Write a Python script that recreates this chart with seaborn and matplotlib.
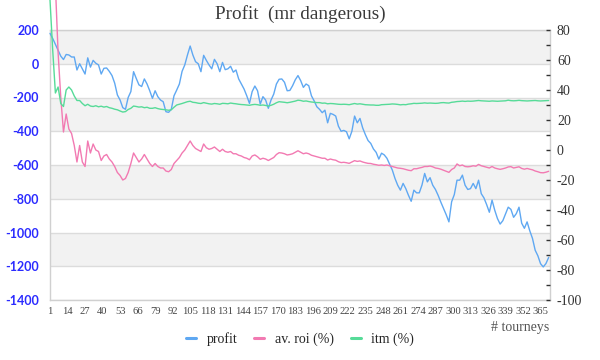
import matplotlib
matplotlib.use("Agg")
import matplotlib.pyplot as plt
from matplotlib.lines import Line2D
from matplotlib.ticker import MultipleLocator
import seaborn as sns
import pandas as pd

# ---------------- data (every 2nd tourney) ----------------
tourneys = list(range(1, 372, 2))

profit = [
    180, 150, 115, 80, 45, 25, 55, 52, 40, 40,
    -37, 0, -30, -61, 35, -20, 20, 3, -7, -61,
    -27, -25, -45, -70, -115, -185, -215, -260, -270, -200,
    -165, -47, -87, -125, -135, -90, -120, -160, -205, -160,
    -195, -215, -225, -284, -288, -270, -190, -156, -120, -45,
    -7, 52, 105, 52, 12, 0, -47, 50, 20, -7,
    -30, 26, 0, -47, 8, -35, -30, -15, -50, -37,
    -90, -120, -150, -190, -235, -165, -132, -160, -239, -195,
    -215, -264, -215, -180, -120, -92, -90, -110, -160, -158,
    -130, -95, -70, -100, -140, -120, -130, -190, -220, -255,
    -270, -290, -275, -350, -294, -300, -310, -370, -400, -395,
    -403, -445, -400, -310, -350, -324, -380, -420, -455, -472,
    -505, -525, -565, -530, -540, -560, -595, -630, -680, -720,
    -749, -709, -740, -780, -815, -749, -765, -765, -719, -650,
    -700, -675, -720, -745, -780, -820, -858, -895, -937, -818,
    -775, -690, -690, -660, -720, -745, -740, -709, -740, -690,
    -770, -795, -835, -880, -808, -868, -917, -950, -930, -890,
    -850, -863, -910, -888, -850, -945, -975, -937, -990, -1035,
    -1105, -1138, -1185, -1204, -1184, -1148,
]

av_roi = [
    840, 230, 110, 65, 35, 12, 24, 14, 11, 3,
    -8, 3, -8, -11, 6, -2, 4, 0, -1, -7,
    -4, -3, -6, -8, -11, -15, -17, -20, -19, -15,
    -9, -2, -5, -8, -6, -3, -6, -9, -11, -9,
    -11, -12, -12, -14, -14.5, -13, -9, -7, -5, -2,
    0, 3, 6, 3, 1, 0, -1, 4, 1.5, 0.5,
    1, 2, 0.5, -1, 0.5, -1, -1.5, -1, -2.5, -2.5,
    -3.5, -4, -5, -5.5, -6.5, -4, -3.3, -4.5, -6.2, -5.5,
    -6, -7, -6, -5, -3, -1.8, -2, -2.5, -3.3, -3,
    -2.5, -1.5, -0.5, -1.5, -2.5, -2, -2.5, -3.5, -4, -4.5,
    -5, -5.5, -5.5, -6.7, -6, -6.5, -6.8, -7.8, -8.4, -8.2,
    -8.5, -8.9, -8, -7.1, -7.6, -7.3, -8, -8.5, -8.9, -9,
    -9.5, -9.8, -10.2, -10, -10.3, -10, -10.5, -11, -11.5, -12,
    -12.2, -12.5, -13, -13.5, -13.8, -12.5, -12.5, -12, -11.6, -11,
    -11, -10.7, -11.2, -12, -12.3, -12.8, -13.5, -14.2, -14.9, -13,
    -12, -9.3, -10.5, -10, -11, -11.2, -11, -10.5, -10.8, -9.6,
    -10.5, -11, -11.5, -12, -11, -12, -12.5, -12.9, -12.5, -12,
    -11.3, -11.1, -12, -11.6, -11.2, -12.3, -12.8, -12.3, -12.8, -13.2,
    -14, -14.5, -15.1, -15.2, -14.8, -14.2,
]

itm = [
    100, 66.7, 38, 42, 31, 29, 40, 42, 40, 36,
    33, 33, 31, 29.5, 30.5, 29.3, 29, 29.5, 28.8, 29.2,
    28.6, 29, 28.2, 27.8, 27.2, 26.8, 26, 25.3, 25.6, 27,
    27.8, 29.3, 29, 28.6, 28.8, 28.2, 28.5, 27.8, 27.8, 28.2,
    27.6, 27.2, 27, 26.8, 26.5, 26.8, 28.5, 30, 30.5, 31,
    31.6, 32.2, 32.5, 31.8, 31.6, 31.2, 31, 31.6, 31.2, 30.8,
    30.6, 31, 30.8, 30.5, 31.1, 31, 30.8, 31.3, 31, 30.8,
    30.5, 30.3, 30.2, 30, 29.8, 30.2, 30.4, 30.2, 29.8, 30,
    29.7, 29.3, 29.8, 30.5, 31.5, 32.2, 32, 31.8, 31.5, 31.8,
    32.2, 32.6, 33.2, 33, 32.5, 32.7, 32.3, 32, 31.8, 31.6,
    31.6, 31.2, 31.3, 30.8, 31, 30.9, 30.7, 30.5, 30.4, 30.5,
    30.4, 30.2, 30.6, 31, 30.6, 30.8, 30.5, 30.2, 30.1, 30,
    30, 29.8, 29.8, 30.2, 30.3, 30.4, 30.5, 30.7, 30.6, 30.4,
    30.1, 30.3, 30.2, 30.6, 30.8, 31.1, 31, 31.1, 31.2, 31.4,
    31.2, 31.3, 31.2, 31.1, 31.2, 31.5, 31.6, 31.4, 31.3, 31.8,
    32, 32.3, 32.4, 32.6, 32.4, 32.6, 32.5, 32.6, 32.8, 33,
    32.8, 32.7, 32.6, 32.5, 32.7, 32.6, 32.5, 32.6, 32.7, 32.8,
    33.2, 32.9, 32.8, 32.9, 33.1, 32.9, 32.8, 32.7, 32.8, 32.9,
    33, 32.8, 32.7, 32.8, 32.9, 33,
]

x_tick_labels = [1, 14, 27, 40, 53, 66, 79, 92, 105, 118, 131, 144, 157, 170,
                 183, 196, 209, 222, 235, 248, 261, 274, 287, 300, 313, 326,
                 339, 352, 365]
left_ticks = [200, 0, -200, -400, -600, -800, -1000, -1200, -1400]
right_ticks = [80, 60, 40, 20, 0, -20, -40, -60, -80, -100]

title = "Profit  (mr dangerous)"
series_names = ["profit", "av. roi (%)", "itm (%)"]
colors = ["#5fa8f2", "#f27ab2", "#56db98"]

df = pd.DataFrame({"tourney": tourneys, "profit": profit,
                   "roi": av_roi, "itm": itm})

# ---------------- figure ----------------
sns.set_style("white")
serif = ["Liberation Serif", "DejaVu Serif"]

fig = plt.figure(figsize=(6, 3.6), dpi=100)
ax = fig.add_axes([50 / 600, 1 - 300 / 360, 500 / 600, 270 / 360])
ax.set_facecolor("white")

# alternating bands + grid
for k in range(len(left_ticks) - 1):
    if k % 2 == 0:
        ax.axhspan(left_ticks[k + 1], left_ticks[k], color="#f2f2f2", lw=0, zorder=0)
for t in left_ticks:
    ax.axhline(t, color="#dcdcdc", lw=1.0, zorder=0.5)

sns.lineplot(data=df, x="tourney", y="profit", ax=ax, color=colors[0],
             lw=1.0, clip_on=False, zorder=3)
ax.set_ylim(-1400, 200)
ax.set_xlim(1, 372)
ax.set_yticks(left_ticks)
ax.set_yticklabels([str(t) for t in left_ticks], color="#2b2bff",
                   fontweight="bold", fontsize=9, family=["Lato", "DejaVu Sans"])
ax.tick_params(axis="y", length=0, pad=8)
ax.set_xticks(x_tick_labels)
ax.set_xticklabels([str(t) for t in x_tick_labels], fontsize=7.6,
                   color="#444444", family=serif)
ax.tick_params(axis="x", length=0, pad=5)
ax.set_xlabel("")
ax.set_ylabel("")
for s in ax.spines.values():
    s.set_color("#d0d0d0")
    s.set_linewidth(1.0)

ax2 = ax.twinx()
sns.lineplot(data=df, x="tourney", y="roi", ax=ax2, color=colors[1],
             lw=1.0, clip_on=False, zorder=3)
sns.lineplot(data=df, x="tourney", y="itm", ax=ax2, color=colors[2],
             lw=1.0, clip_on=False, zorder=3)
ax2.set_ylim(-100, 80)
ax2.set_xlim(1, 372)
ax2.set_yticks(right_ticks)
ax2.set_yticklabels([str(t) for t in right_ticks], fontsize=10,
                    color="#333333", family=serif)
ax2.yaxis.set_minor_locator(MultipleLocator(10))
ax2.tick_params(axis="y", which="both", direction="in", length=3,
                color="#333333", width=1, pad=5)
ax2.set_ylabel("")
ax2.set_xlabel("")
for s in ax2.spines.values():
    s.set_visible(False)

fig.text(0.5, 1 - 14 / 360, title, ha="center", va="center",
         fontsize=13.8, color="#3a3a3a", family=serif)
fig.text(549 / 600, 1 - 327 / 360, "# tourneys", ha="right", va="center",
         fontsize=10, color="#555555", family=serif)

handles = [Line2D([0], [0], color=c, lw=2.2) for c in colors]
fig.legend(handles, series_names, loc="center", ncol=3,
           bbox_to_anchor=(0.5, 1 - 339 / 360), frameon=False,
           handlelength=0.75, handletextpad=0.75, columnspacing=1.2,
           prop={"family": serif, "size": 10})

fig.savefig("out.png", dpi=100)
